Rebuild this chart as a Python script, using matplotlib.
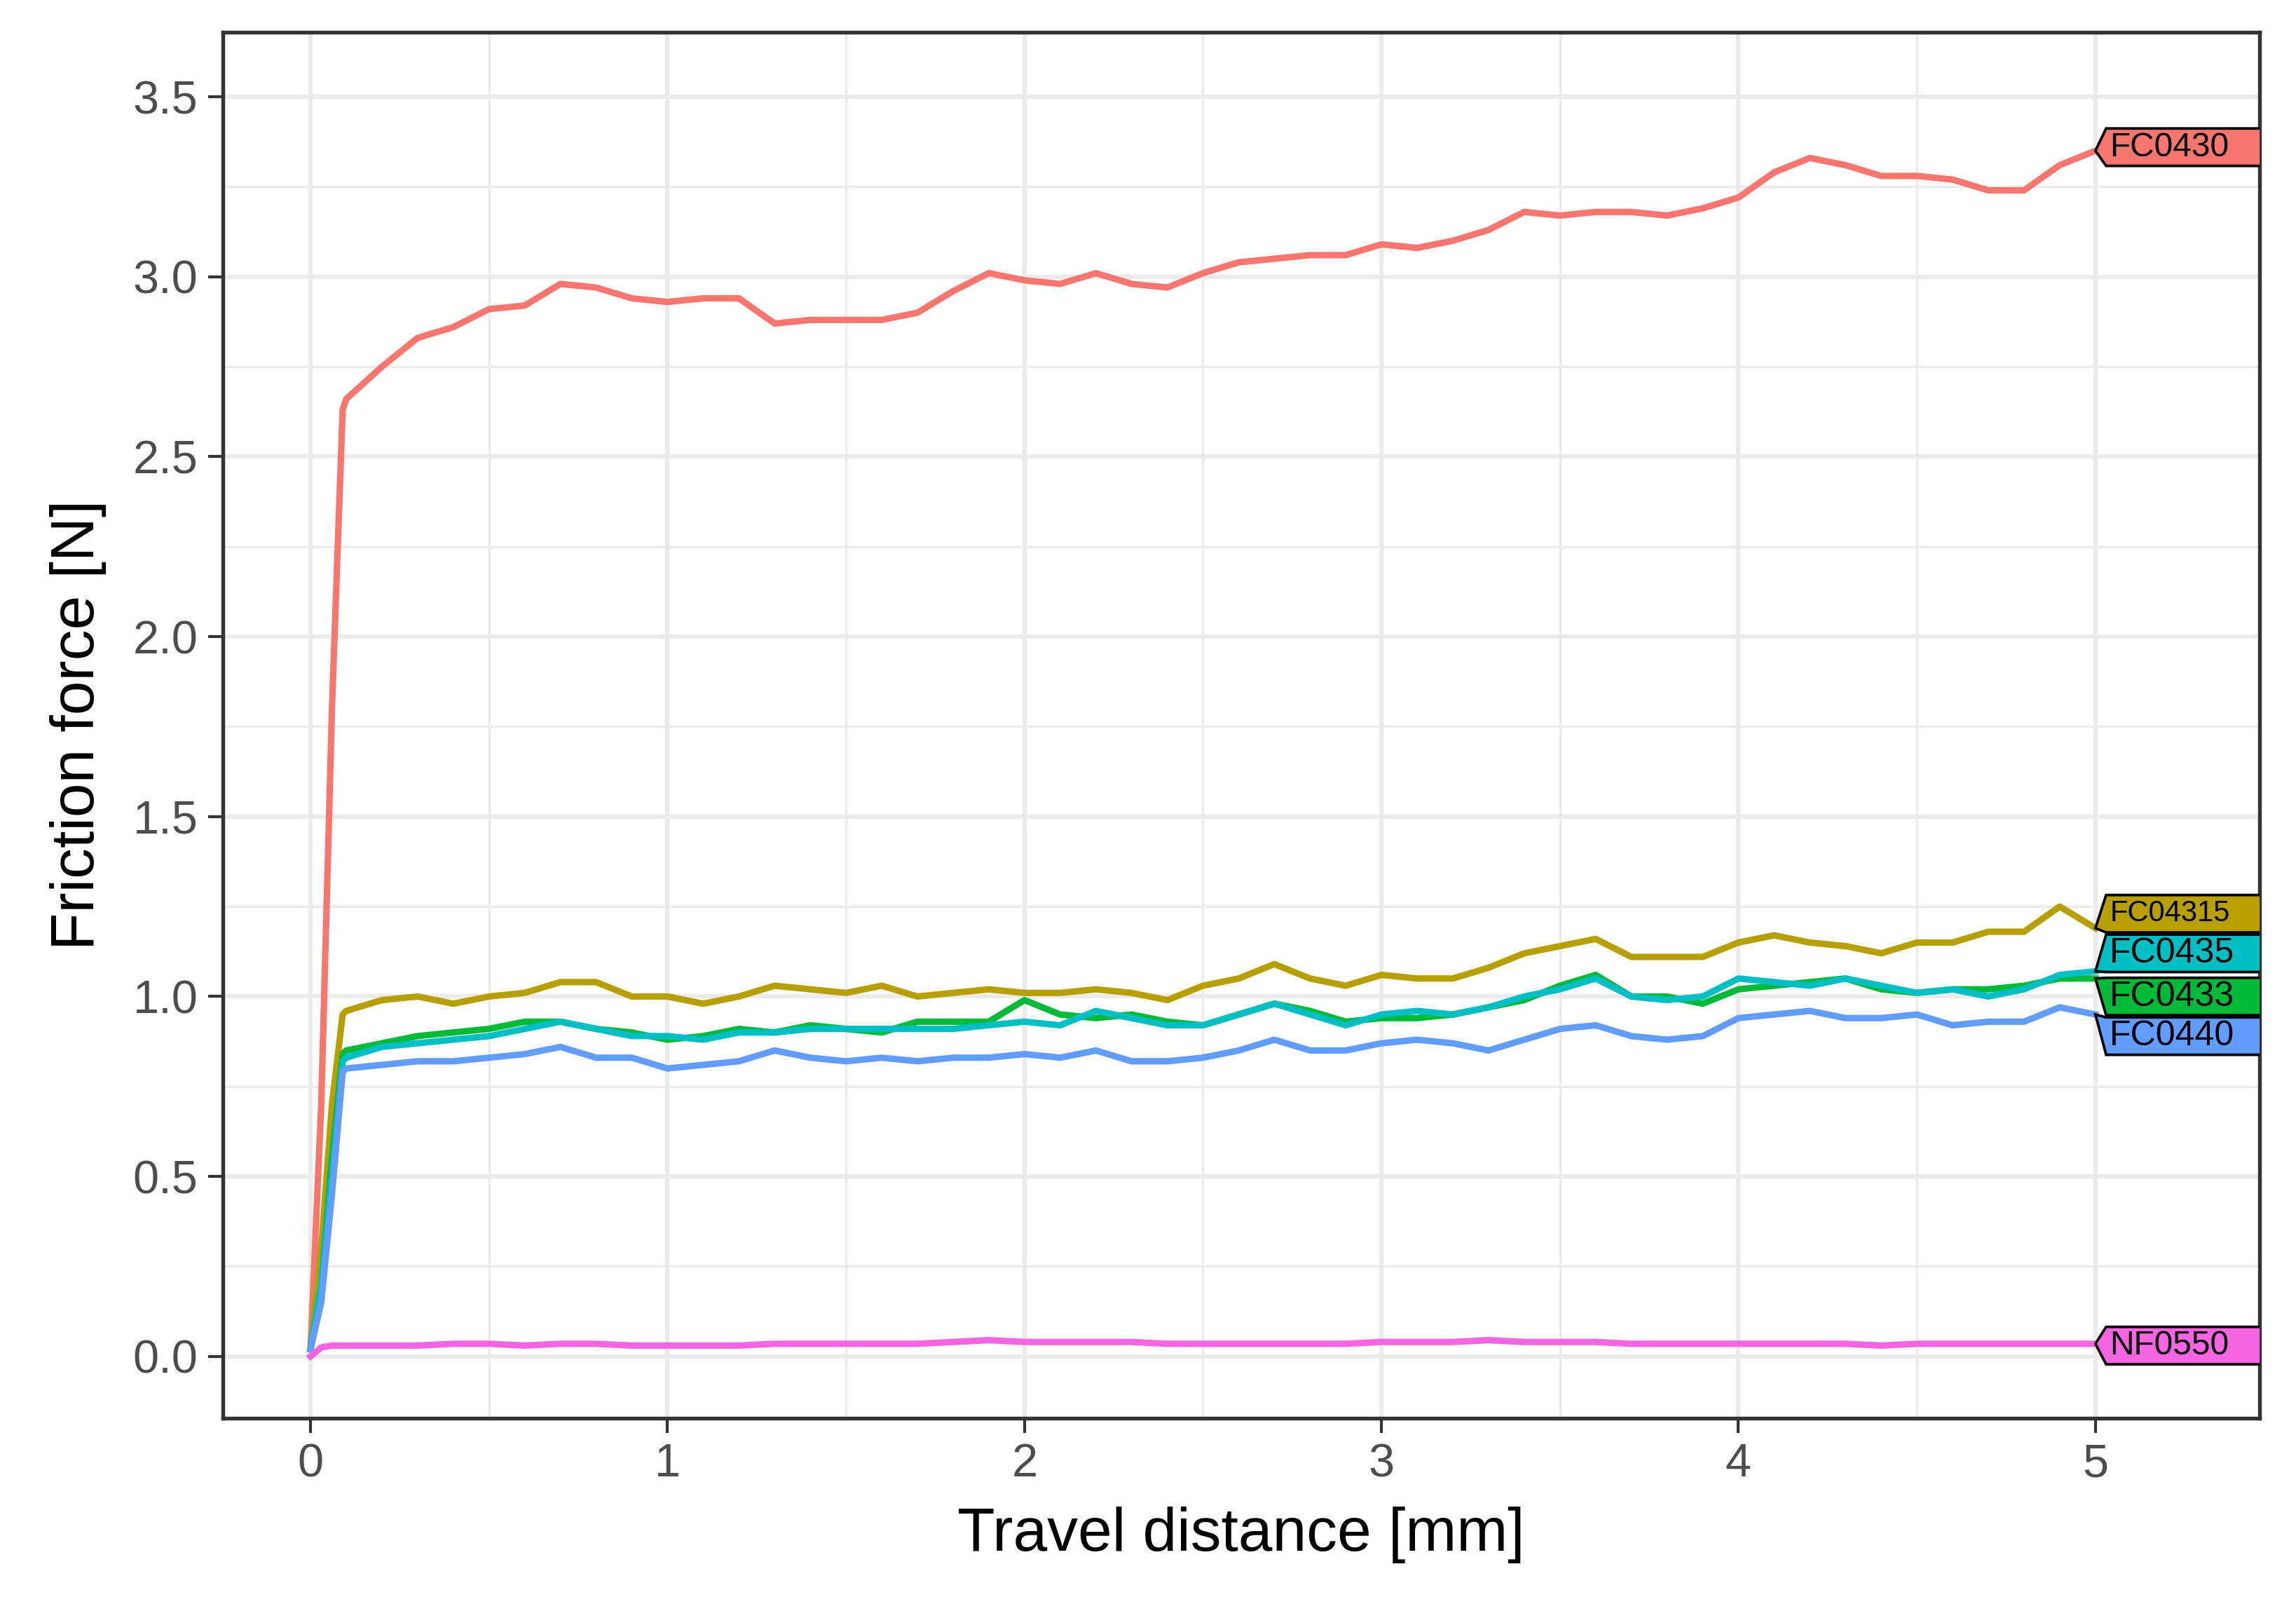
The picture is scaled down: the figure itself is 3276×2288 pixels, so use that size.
import matplotlib.pyplot as plt
from matplotlib.patches import Polygon

X = [0, 0.03, 0.06, 0.09, 0.1, 0.2, 0.3, 0.4, 0.5, 0.6, 0.7, 0.8, 0.9, 1.0,
     1.1, 1.2, 1.3, 1.4, 1.5, 1.6, 1.7, 1.8, 1.9, 2.0, 2.1, 2.2, 2.3, 2.4, 2.5,
     2.6, 2.7, 2.8, 2.9, 3.0, 3.1, 3.2, 3.3, 3.4, 3.5, 3.6, 3.7, 3.8, 3.9, 4.0,
     4.1, 4.2, 4.3, 4.4, 4.5, 4.6, 4.7, 4.8, 4.9, 5.0]

FC0430 = [0.02, 0.7, 1.8, 2.63, 2.66, 2.75, 2.83, 2.86, 2.91, 2.92, 2.98, 2.97, 2.94, 2.93,
          2.94, 2.94, 2.87, 2.88, 2.88, 2.88, 2.90, 2.96, 3.01, 2.99, 2.98, 3.01, 2.98, 2.97, 3.01,
          3.04, 3.05, 3.06, 3.06, 3.09, 3.08, 3.10, 3.13, 3.18, 3.17, 3.18, 3.18, 3.17, 3.19, 3.22,
          3.29, 3.33, 3.31, 3.28, 3.28, 3.27, 3.24, 3.24, 3.31, 3.35]
FC04315 = [0.02, 0.3, 0.7, 0.95, 0.96, 0.99, 1.00, 0.98, 1.00, 1.01, 1.04, 1.04, 1.00, 1.00,
           0.98, 1.00, 1.03, 1.02, 1.01, 1.03, 1.00, 1.01, 1.02, 1.01, 1.01, 1.02, 1.01, 0.99, 1.03,
           1.05, 1.09, 1.05, 1.03, 1.06, 1.05, 1.05, 1.08, 1.12, 1.14, 1.16, 1.11, 1.11, 1.11, 1.15,
           1.17, 1.15, 1.14, 1.12, 1.15, 1.15, 1.18, 1.18, 1.25, 1.19]
FC0433 = [0.02, 0.2, 0.55, 0.84, 0.85, 0.87, 0.89, 0.90, 0.91, 0.93, 0.93, 0.91, 0.90, 0.88,
          0.89, 0.91, 0.90, 0.92, 0.91, 0.90, 0.93, 0.93, 0.93, 0.99, 0.95, 0.94, 0.95, 0.93, 0.92,
          0.95, 0.98, 0.96, 0.93, 0.94, 0.94, 0.95, 0.97, 0.99, 1.03, 1.06, 1.00, 1.00, 0.98, 1.02,
          1.03, 1.04, 1.05, 1.02, 1.01, 1.02, 1.02, 1.03, 1.05, 1.05]
FC0435 = [0.02, 0.2, 0.5, 0.82, 0.83, 0.86, 0.87, 0.88, 0.89, 0.91, 0.93, 0.91, 0.89, 0.89,
          0.88, 0.90, 0.90, 0.91, 0.91, 0.91, 0.91, 0.91, 0.92, 0.93, 0.92, 0.96, 0.94, 0.92, 0.92,
          0.95, 0.98, 0.95, 0.92, 0.95, 0.96, 0.95, 0.97, 1.00, 1.02, 1.05, 1.00, 0.99, 1.00, 1.05,
          1.04, 1.03, 1.05, 1.03, 1.01, 1.02, 1.00, 1.02, 1.06, 1.07]
FC0440 = [0.02, 0.15, 0.45, 0.79, 0.80, 0.81, 0.82, 0.82, 0.83, 0.84, 0.86, 0.83, 0.83, 0.80,
          0.81, 0.82, 0.85, 0.83, 0.82, 0.83, 0.82, 0.83, 0.83, 0.84, 0.83, 0.85, 0.82, 0.82, 0.83,
          0.85, 0.88, 0.85, 0.85, 0.87, 0.88, 0.87, 0.85, 0.88, 0.91, 0.92, 0.89, 0.88, 0.89, 0.94,
          0.95, 0.96, 0.94, 0.94, 0.95, 0.92, 0.93, 0.93, 0.97, 0.95]
NF0550 = [0.0, 0.025, 0.03, 0.03, 0.03, 0.03, 0.03, 0.035, 0.035, 0.03, 0.035, 0.035, 0.03, 0.03,
          0.03, 0.03, 0.035, 0.035, 0.035, 0.035, 0.035, 0.04, 0.045, 0.04, 0.04, 0.04, 0.04, 0.035, 0.035,
          0.035, 0.035, 0.035, 0.035, 0.04, 0.04, 0.04, 0.045, 0.04, 0.04, 0.04, 0.035, 0.035, 0.035, 0.035,
          0.035, 0.035, 0.035, 0.03, 0.035, 0.035, 0.035, 0.035, 0.035, 0.035]

SERIES = ["FC0430", "FC04315", "FC0433", "FC0435", "FC0440", "NF0550"]
VALUES = [FC0430, FC04315, FC0433, FC0435, FC0440, NF0550]
COLORS = ["#F8766D", "#B79F00", "#00BA38", "#00BFC4", "#619CFF", "#F564E3"]
LABEL_Y = [3.36, 1.23, 1.0, 1.12, 0.89, 0.03]
LABEL_SIZE = [11.5, 10, 12, 12, 12, 11.5]

fig = plt.figure(figsize=(10.92, 7.627), dpi=300)
ax = fig.add_axes([0.097, 0.116, 0.887, 0.864])
ax.set_xlim(-0.246, 5.459)
ax.set_ylim(-0.171, 3.68)

for name, vals, col in zip(SERIES, VALUES, COLORS):
    ax.plot(X, vals, color=col, lw=2.2, zorder=3, solid_joinstyle="round")

for name, vals, col, ly, fs in zip(SERIES, VALUES, COLORS, LABEL_Y, LABEL_SIZE):
    h = 0.052
    poly = Polygon([(X[-1], vals[-1]), (5.03, ly + h), (5.6, ly + h), (5.6, ly - h), (5.03, ly - h)],
                   closed=True, facecolor=col, edgecolor="black", lw=0.9, zorder=4)
    ax.add_patch(poly)
    ax.text(5.04, ly, name, fontsize=fs, va="center", ha="left", color="black",
            fontfamily="Liberation Sans", zorder=5, clip_on=True)

ax.set_xticks([0, 1, 2, 3, 4, 5])
ax.set_xticks([0.5, 1.5, 2.5, 3.5, 4.5], minor=True)
ax.set_yticks([0.0, 0.5, 1.0, 1.5, 2.0, 2.5, 3.0, 3.5])
ax.set_yticks([0.25, 0.75, 1.25, 1.75, 2.25, 2.75, 3.25], minor=True)
ax.set_yticklabels(["0.0", "0.5", "1.0", "1.5", "2.0", "2.5", "3.0", "3.5"])
ax.grid(which="major", color="#EBEBEB", lw=1.5, zorder=0)
ax.grid(which="minor", color="#EBEBEB", lw=0.8, zorder=0)
ax.tick_params(which="minor", length=0)
ax.tick_params(which="major", length=5, width=1.0, color="#333333",
               labelsize=16, labelcolor="#4D4D4D")
for lab in ax.get_xticklabels() + ax.get_yticklabels():
    lab.set_fontfamily("Liberation Sans")
for s in ax.spines.values():
    s.set_color("#333333")
    s.set_linewidth(1.3)
ax.set_axisbelow(True)
ax.set_xlabel("Travel distance [mm]", fontsize=21, fontfamily="Liberation Sans", labelpad=7)
ax.set_ylabel("Friction force [N]", fontsize=21, fontfamily="Liberation Sans", labelpad=9)

fig.savefig("out.png", dpi=300)
